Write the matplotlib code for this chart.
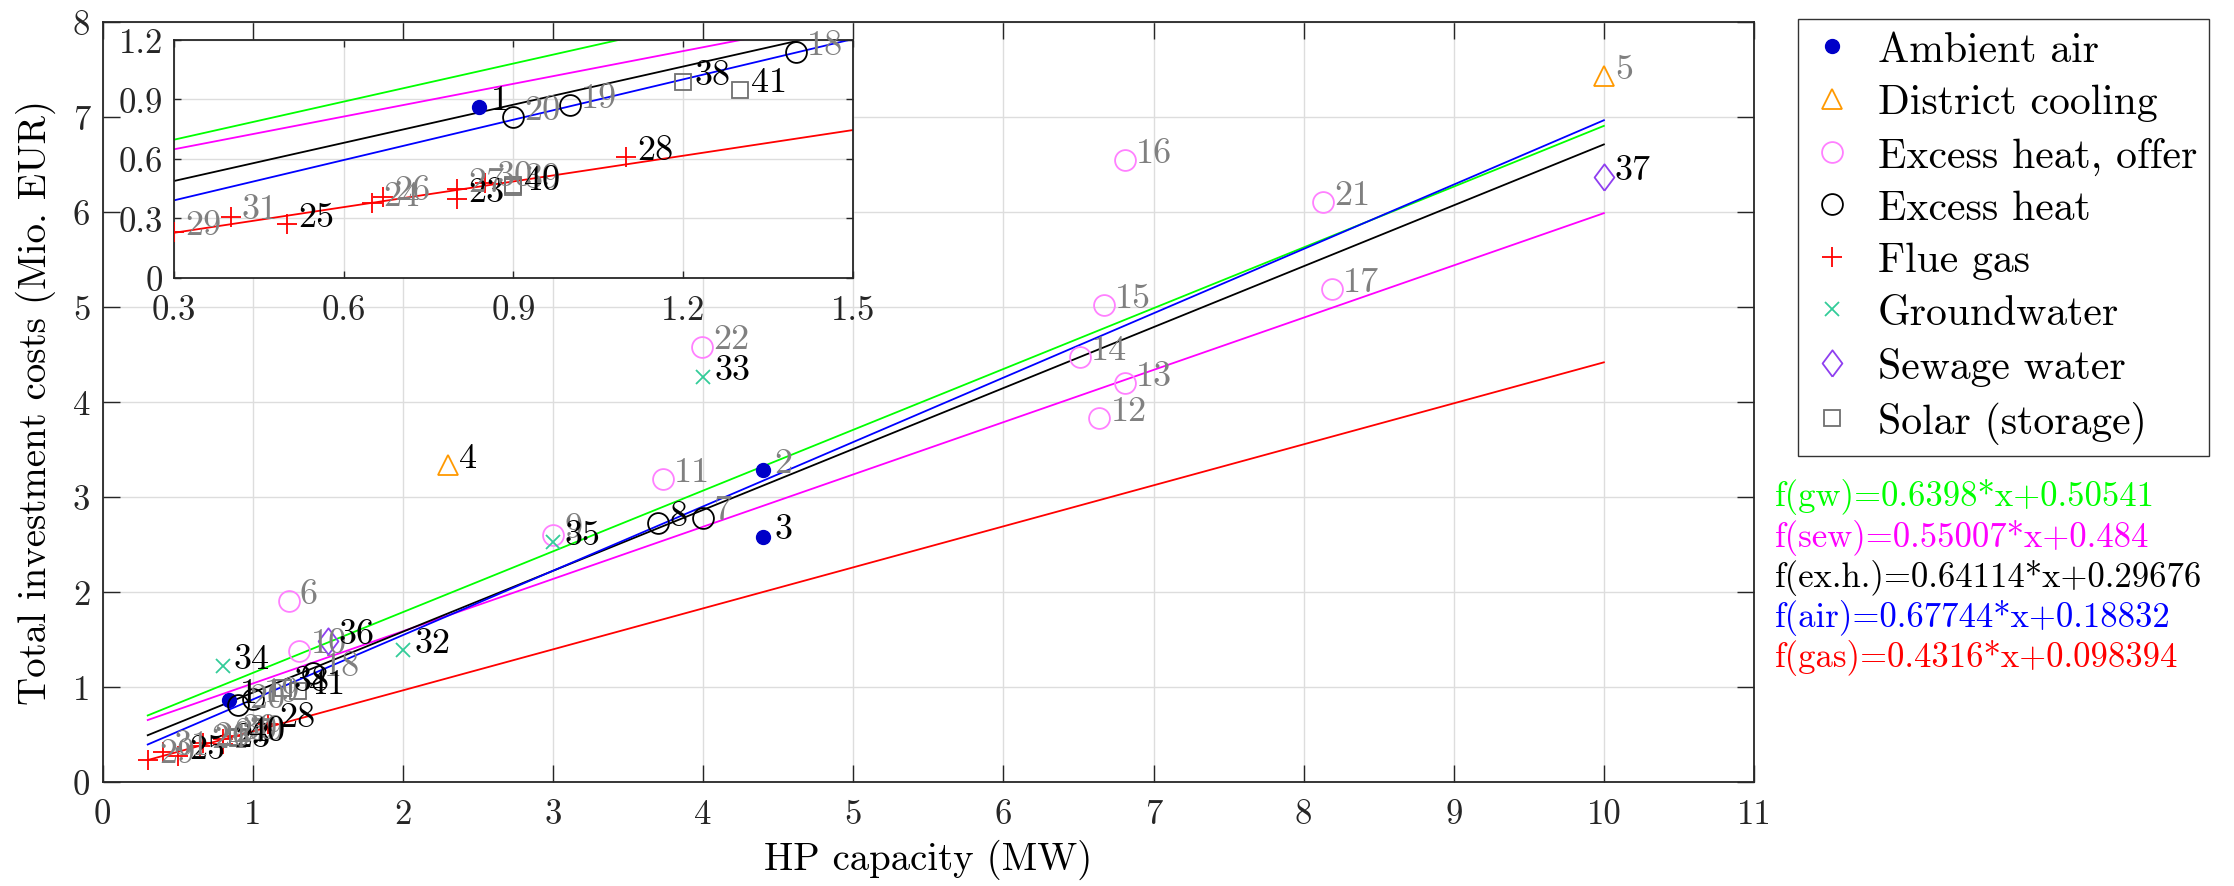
import matplotlib.pyplot as plt
import numpy as np
from matplotlib.patches import Rectangle

plt.rcParams['font.family'] = 'cmr10'
plt.rcParams['mathtext.fontset'] = 'cm'
plt.rcParams['axes.unicode_minus'] = False
plt.rcParams['font.size'] = 25

# one entry per heat pump project: number, capacity (MW), costs (Mio. EUR), source
point_id = list(range(1, 42))
hp_mw = [0.84, 4.40, 4.40, 2.30, 10.00, 1.24, 4.00, 3.70, 3.00, 1.31,
         3.73, 6.64, 6.81, 6.51, 6.67, 6.81, 8.19, 1.40, 1.00, 0.90,
         8.13, 3.99, 0.80, 0.65, 0.50, 0.67, 0.80, 1.10, 0.30, 0.85,
         0.40, 2.00, 4.00, 0.80, 3.00, 1.50, 10.00, 1.20, 0.90, 0.90,
         1.30]
cost_meur = [0.86, 3.28, 2.58, 3.33, 7.43, 1.90, 2.78, 2.72, 2.60, 1.38,
             3.19, 3.83, 4.20, 4.47, 5.02, 6.54, 5.19, 1.14, 0.87, 0.81,
             6.10, 4.58, 0.40, 0.38, 0.27, 0.41, 0.45, 0.61, 0.23, 0.48,
             0.31, 1.39, 4.26, 1.22, 2.52, 1.48, 6.36, 0.99, 0.47, 0.46,
             0.95]
source = ['air', 'air', 'air', 'dc', 'dc', 'offer', 'exh', 'exh', 'offer', 'offer',
          'offer', 'offer', 'offer', 'offer', 'offer', 'offer', 'offer', 'exh', 'exh', 'exh',
          'offer', 'offer', 'gas', 'gas', 'gas', 'gas', 'gas', 'gas', 'gas', 'gas',
          'gas', 'gw', 'gw', 'gw', 'gw', 'sew', 'sew', 'solar', 'solar', 'solar',
          'solar']
# label drawn in grey (True) or black (False)
grey_label = [False, True, False, False, True, True, True, False, True, True,
              True, True, True, True, True, True, True, True, True, True,
              True, True, False, True, False, True, True, False, True, True,
              True, False, False, False, False, False, False, False, True, False,
              False]

cat_keys = ['air', 'dc', 'offer', 'exh', 'gas', 'gw', 'sew', 'solar']
cat_names = ['Ambient air', 'District cooling', 'Excess heat, offer', 'Excess heat',
             'Flue gas', 'Groundwater', 'Sewage water', 'Solar (storage)']

# linear fits
fit_names = ['gw', 'sew', 'ex.h.', 'air', 'gas']
fit_slope = [0.6398, 0.55007, 0.64114, 0.67744, 0.4316]
fit_icpt = [0.50541, 0.484, 0.29676, 0.18832, 0.098394]
fit_colors = ['#00ff00', '#ff00ff', 'black', '#0000ff', '#ff0000']
fit_x = [0.3, 10]

diamond = [(0, -1), (0.75, 0), (0, 1), (-0.75, 0), (0, -1)]
styles = {
    'air':   dict(marker='o', ms=10, mfc='#0000c8', mec='#0000c8'),
    'dc':    dict(marker='^', ms=15, mfc='none', mec='#ff9900', mew=1.3),
    'offer': dict(marker='o', ms=15, mfc='none', mec='#ff80ff', mew=1.3),
    'exh':   dict(marker='o', ms=15, mfc='none', mec='black', mew=1.3),
    'gas':   dict(marker='+', ms=15, mec='#ff0000', mew=1.3),
    'gw':    dict(marker='x', ms=10, mec='#33cc99', mew=1.3),
    'sew':   dict(marker=diamond, ms=19, mfc='none', mec='#8f3ff0', mew=1.3),
    'solar': dict(marker='s', ms=12, mfc='none', mec='#707070', mew=1.3),
}

hp_mw = np.array(hp_mw)
cost_meur = np.array(cost_meur)
source = np.array(source)

fig = plt.figure(figsize=(22.34, 8.87), dpi=100)
ax = fig.add_axes([0.04597, 0.11759, 0.73917, 0.85682], zorder=0)
ins = fig.add_axes([0.07789, 0.68546, 0.3038, 0.26832], zorder=2)
# white backing left of the inset (hides the main grid there)
fig.add_artist(Rectangle((0.0542, 0.68546), 0.0237, 0.26832, transform=fig.transFigure,
                         facecolor='white', edgecolor='none', zorder=1))


def draw(axis, xlim, ylim):
    for a, b, c in zip(fit_slope, fit_icpt, fit_colors):
        xs = np.array(fit_x)
        axis.plot(xs, a * xs + b, color=c, lw=1.3, zorder=2)
    inside = ((hp_mw >= xlim[0]) & (hp_mw <= xlim[1]) &
              (cost_meur >= ylim[0]) & (cost_meur <= ylim[1]))
    handles = []
    for key, name in zip(cat_keys, cat_names):
        m = (source == key) & inside
        h, = axis.plot(hp_mw[m], cost_meur[m], ls='none', label=name, zorder=3, **styles[key])
        handles.append(h)
    for pid, x, y, g, ok in zip(point_id, hp_mw, cost_meur, grey_label, inside):
        if ok:
            axis.annotate(str(pid), (x, y), xytext=(8, 5), textcoords='offset points',
                          va='center', ha='left', color='#808080' if g else 'black',
                          fontsize=26, zorder=4)
    axis.set_xlim(*xlim)
    axis.set_ylim(*ylim)
    axis.grid(True, color='#dddddd', lw=1.0)
    axis.set_axisbelow(True)
    for s in axis.spines.values():
        s.set_color('#262626')
        s.set_linewidth(1.3)
    return handles


handles = draw(ax, (0, 11), (0, 8))
ax.set_xticks(range(0, 12))
ax.set_yticks(range(0, 9))
ax.tick_params(direction='in', length=12.5, width=1.0, top=True, right=True,
               colors='#262626', labelsize=25)
ax.tick_params(axis='x', pad=12)
ax.tick_params(axis='y', pad=9)
ax.set_xlabel('HP capacity (MW)', fontsize=28, labelpad=6)
ax.set_ylabel('Total investment costs (Mio. EUR)', fontsize=28, labelpad=12)

draw(ins, (0.3, 1.5), (0, 1.2))
ins.set_xticks([0.3, 0.6, 0.9, 1.2, 1.5])
ins.set_xticklabels(['0.3', '0.6', '0.9', '1.2', '1.5'])
ins.set_yticks([0, 0.3, 0.6, 0.9, 1.2])
ins.set_yticklabels(['0', '0.3', '0.6', '0.9', '1.2'])
ins.tick_params(direction='in', length=5, width=1.0, top=True, right=True,
                colors='#262626', labelsize=25)
ins.tick_params(axis='x', pad=12)
ins.tick_params(axis='y', pad=8)

leg = fig.legend(handles=handles, loc='upper left', bbox_to_anchor=(0.805, 0.9775),
                 fontsize=30, frameon=True, fancybox=False, edgecolor='black',
                 labelspacing=0.36, handletextpad=0.6, borderpad=0.3, handlelength=1.0,
                 borderaxespad=0)
leg.get_frame().set_linewidth(1.0)

eq_y = [0.4397, 0.3935, 0.3484, 0.3033, 0.2582]
for n, a, b, c, yy in zip(fit_names, fit_slope, fit_icpt, fit_colors, eq_y):
    fig.text(0.7945, yy, f'f({n})={a:g}*x+{b:g}', color=c, fontsize=25, va='center')

fig.savefig('out.png', dpi=100)
